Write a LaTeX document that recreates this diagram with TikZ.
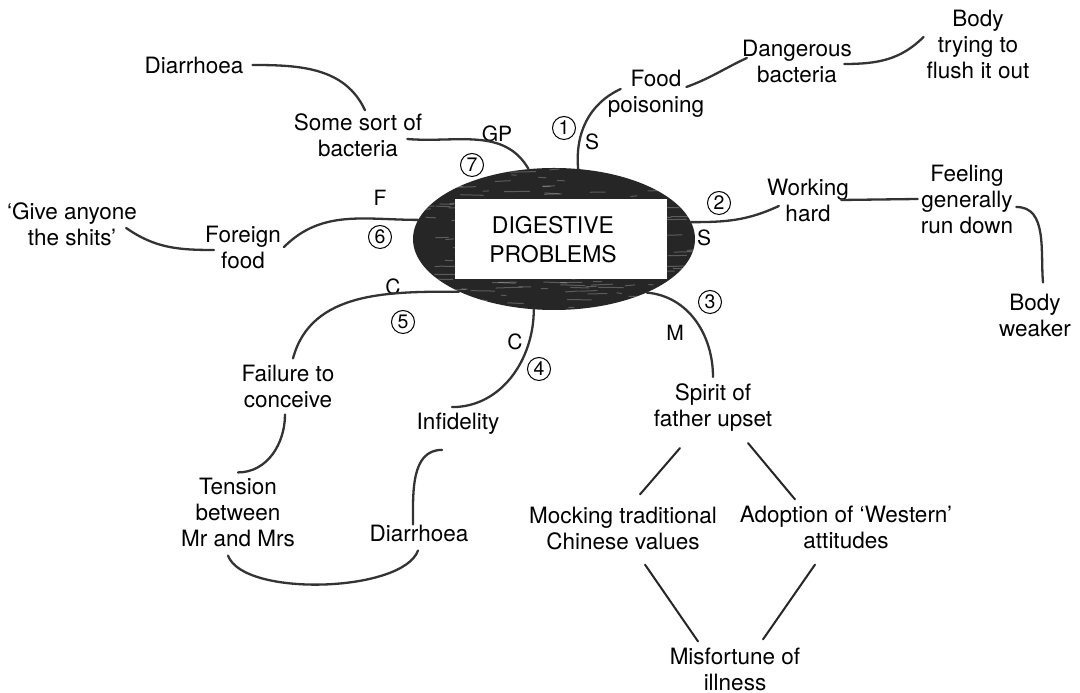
\documentclass[tikz,border=0pt]{standalone}
\usepackage{fontspec}
\setmainfont{TeX Gyre Heros}
\usetikzlibrary{shapes.geometric}
\begin{document}
\begin{tikzpicture}[x=1pt,y=1pt,
  label/.style={font=\fontsize{22.5}{26}\selectfont, align=center, inner sep=3pt},
  tag/.style={font=\fontsize{21}{21}\selectfont, inner sep=1pt},
  num/.style={circle, draw=black, line width=1pt, minimum size=23pt, inner sep=0pt,
              font=\fontsize{19.5}{19.5}\selectfont},
  link/.style={draw=black!80, line width=2.3pt, line cap=round},
  rung/.style={draw=black!85, line width=2pt, line cap=round}]

\useasboundingbox (0,0) rectangle (1080,693);

% central dark ellipse with a mottled texture
\node[ellipse, minimum width=282pt, minimum height=142pt, inner sep=0pt,
      fill=black!85] (core) at (554,454) {};
\begin{scope}
  \clip (554,454) ellipse [x radius=141, y radius=71];
  \pgfmathsetseed{7}
  \foreach \i in {1,...,160} {
    \pgfmathsetmacro\px{413+rnd*282}
    \pgfmathsetmacro\py{383+rnd*142}
    \pgfmathsetmacro\len{5+rnd*22}
    \draw[white, opacity=0.25, line width=1pt] (\px,\py) -- ++(\len,rnd*2-1);
  }
\end{scope}
\node[rectangle, fill=white, minimum width=212pt, minimum height=80pt,
      inner sep=0pt] (box) at (561,454) {};
\node[font=\fontsize{23}{29}\selectfont, align=center] (title) at (553,453)
      {DIGESTIVE\\PROBLEMS};

% text nodes
\node[label] (diarA)   at (194,628) {Diarrhoea};
\node[label] (sbact)   at (358,558) {Some sort of\\bacteria};
\node[tag]   (gp)      at (497,559) {GP};
\node[num]   (n7)      at (472,528) {7};
\node[num]   (n1)      at (564,565) {1};
\node[tag]   (s1)      at (592,551) {S};
\node[label] (foodp)   at (656,599) {Food\\poisoning};
\node[label] (dbact)   at (797,632) {Dangerous\\bacteria};
\node[label] (flush)   at (978,649) {Body\\trying to\\flush it out};
\node[num]   (n2)      at (719,490) {2};
\node[tag]   (s2)      at (704,455) {S};
\node[label] (work)    at (808,493) {Working\\hard};
\node[label] (feel)    at (967,494) {Feeling\\generally\\run down};
\node[label] (weak)    at (1035,378) {Body\\weaker};
\node[num]   (n3)      at (710,391) {3};
\node[tag]   (m3)      at (675,360) {M};
\node[label] (spirit)  at (713,285) {Spirit of\\father upset};
\node[label] (mock)    at (623,164) {Mocking traditional\\Chinese values};
\node[label] (adopt)   at (846,166) {Adoption of ‘Western’\\attitudes};
\node[label] (misf)    at (735,24)  {Misfortune of\\illness};
\node[tag]   (c4)      at (515,351) {C};
\node[num]   (n4)      at (539,324) {4};
\node[label] (infid)   at (458,269) {Infidelity};
\node[label] (diarB)   at (419,160) {Diarrhoea};
\node[label] (tension) at (238,181) {Tension\\between\\Mr and Mrs};
\node[label] (fail)    at (288,307) {Failure to\\conceive};
\node[tag]   (c5)      at (393,406) {C};
\node[num]   (n5)      at (403,371) {5};
\node[tag]   (f6)      at (380,495) {F};
\node[num]   (n6)      at (380,456) {6};
\node[label] (foreign) at (243,446) {Foreign\\food};
\node[label] (give)    at (72,469)  {‘Give anyone\\the shits’};

% connectors
\draw[link] ([xshift=6pt]diarA.east) to[out=0,in=115] ([xshift=7pt]sbact.north);
\draw[link] ([xshift=-18pt,yshift=-4pt]sbact.east) to[out=-5,in=120] (core.110);
\draw[link] (core.71) to[out=95,in=205] ([xshift=16pt,yshift=5pt]foodp.west);
\draw[link] ([xshift=-21pt,yshift=7pt]foodp.east) to[out=20,in=205] ([xshift=8pt,yshift=3pt]dbact.west);
\draw[link] ([xshift=-11pt,yshift=-3pt]dbact.east) to[out=0,in=225] ([yshift=7pt]flush.west);
\draw[link] (core.7) to[out=0,in=205] ([xshift=15pt,yshift=-6pt]work.west);
\draw[link] ([xshift=-11pt]work.east) -- (feel.west);
\draw[link] ([yshift=-8pt]feel.east) to[out=0,in=95] ([xshift=8pt,yshift=8pt]weak.north);
\draw[link] (core.-30) to[out=-5,in=90] ([yshift=4pt]spirit.north);
\draw[rung] ([xshift=-33pt,yshift=-13pt]spirit.south) -- ([xshift=17pt,yshift=10pt]mock.north);
\draw[rung] ([xshift=35pt,yshift=-8pt]spirit.south) -- ([xshift=-51pt,yshift=3pt]adopt.north);
\draw[rung] ([xshift=22pt,yshift=-11pt]mock.south) -- ([xshift=-37pt,yshift=3pt]misf.north);
\draw[rung] ([xshift=-31pt,yshift=-13pt]adopt.south) -- ([xshift=28pt,yshift=5pt]misf.north);
\draw[link] (core.254) to[out=-90,in=0] ([xshift=-6pt,yshift=3pt]infid.north);
\draw[link] ([xshift=-16pt,yshift=-12pt]infid.south) to[out=180,in=90] ([xshift=-6pt,yshift=-3pt]diarB.north);
\draw[link] ([xshift=-1pt,yshift=-6pt]diarB.south) to[out=-110,in=-70,looseness=0.6] ([xshift=-10pt,yshift=-6pt]tension.south);
\draw[link] ([xshift=-3pt,yshift=-4pt]fail.south) to[out=-90,in=0] ([yshift=2pt]tension.north);
\draw[link] (core.209) to[out=180,in=75] ([xshift=5pt,yshift=3pt]fail.north);
\draw[link] (core.172) to[out=180,in=45] (foreign.east);
\draw[link] ([xshift=12pt,yshift=-3pt]foreign.west) to[out=180,in=-35] ([xshift=-14pt,yshift=-4pt]give.east);

\end{tikzpicture}
\end{document}
